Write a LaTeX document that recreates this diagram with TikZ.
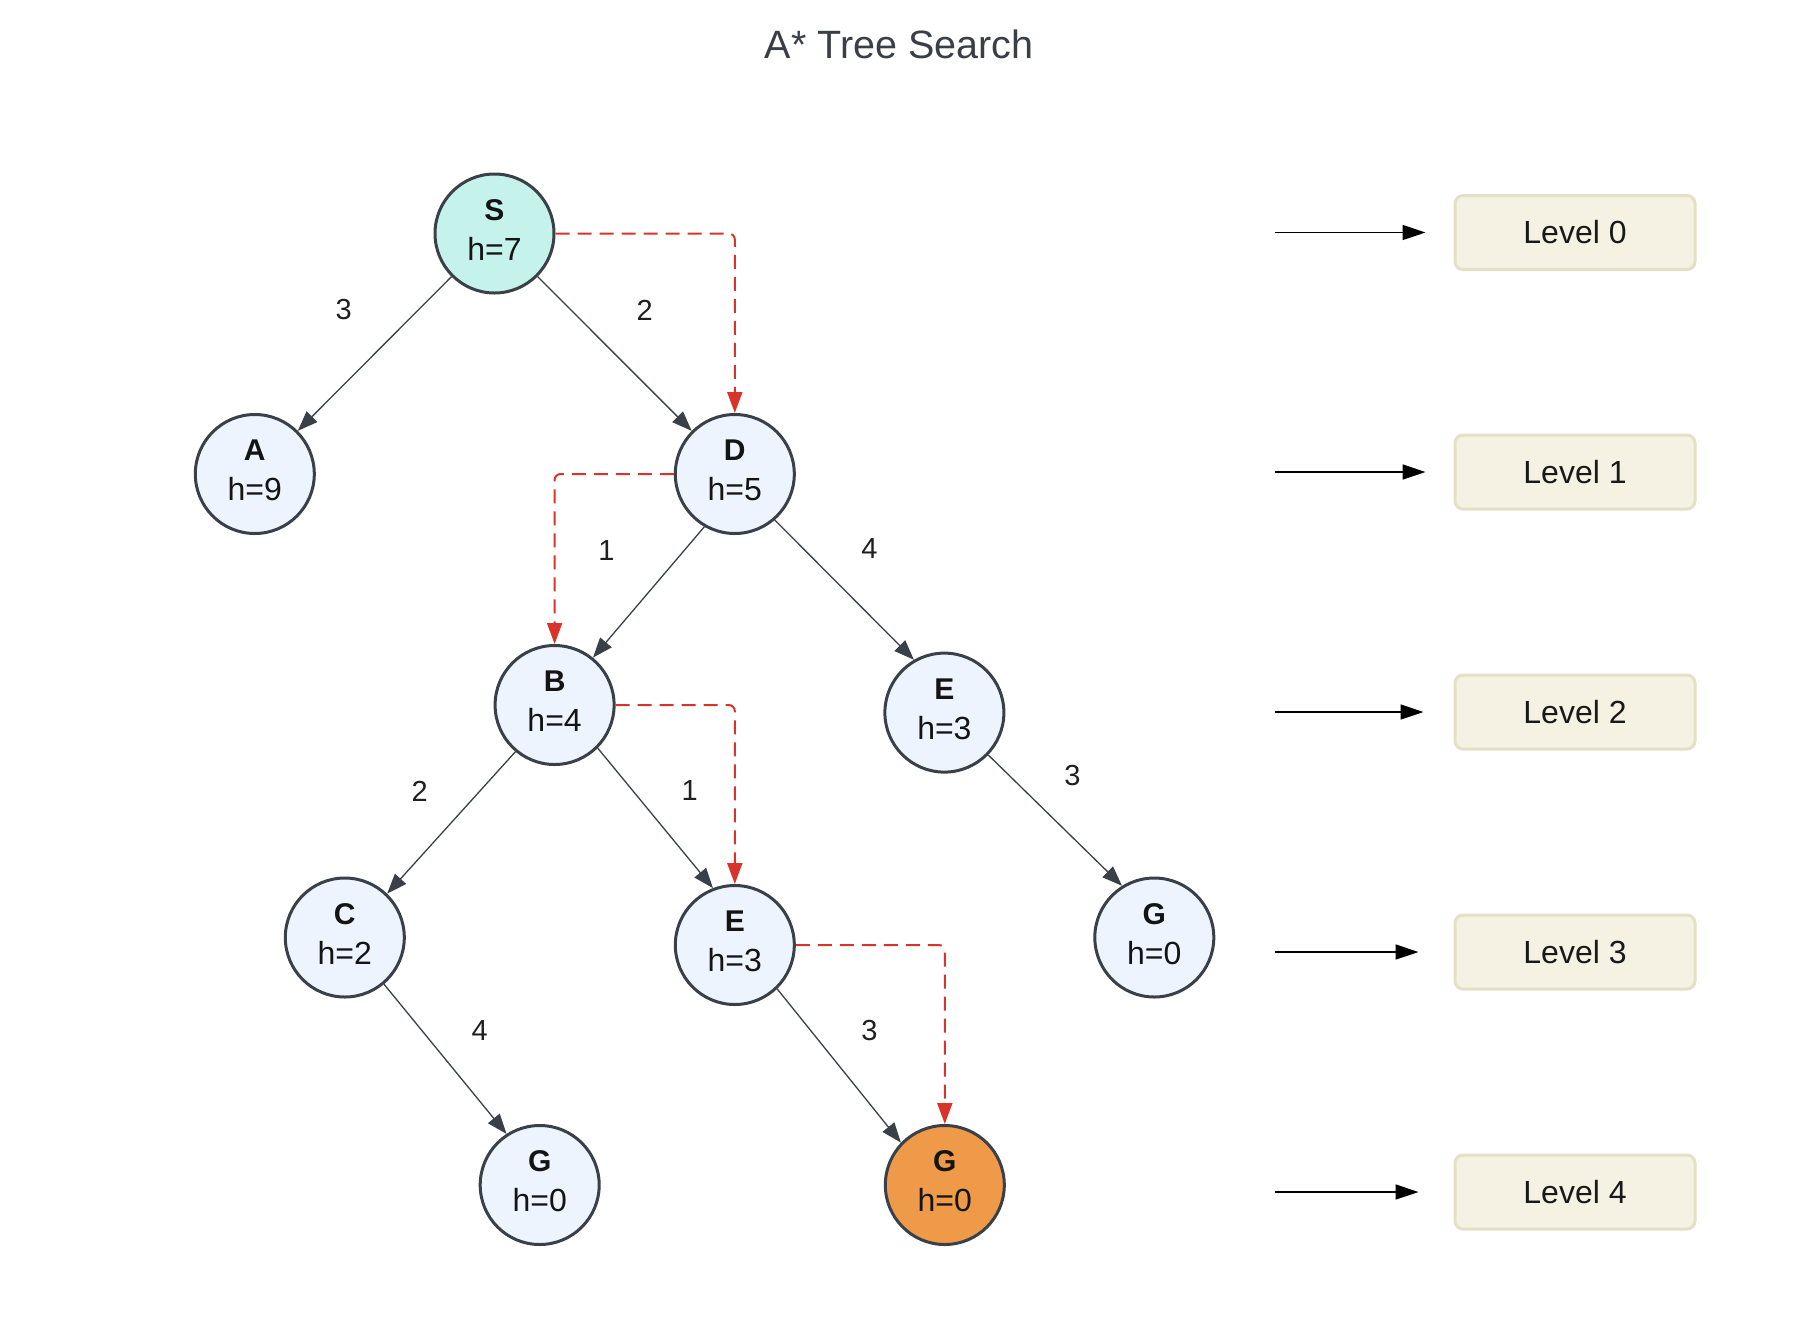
\documentclass[tikz,border=0pt]{standalone}
\usepackage{fontspec}
\setmainfont{Liberation Sans}
\usetikzlibrary{arrows.meta}
\definecolor{ink}{HTML}{3A4048}
\definecolor{nodefill}{HTML}{EDF4FE}
\definecolor{startfill}{HTML}{C5F2EA}
\definecolor{goalfill}{HTML}{EE9A48}
\definecolor{pathred}{HTML}{D8342A}
\definecolor{levelfill}{HTML}{F5F2E3}
\definecolor{levelline}{HTML}{E4DFC6}
\definecolor{titleink}{HTML}{3A3F47}
% two-line state label: bold name over heuristic value
\newcommand{\statetext}[2]{{\fontsize{30}{40}\selectfont\bfseries #1}\\h=#2\rule[-7pt]{0pt}{0pt}}
\begin{document}
\begin{tikzpicture}[x=1pt,y=-1pt,
  state/.style={circle, draw=ink, line width=3pt, minimum size=119pt, inner sep=0pt,
    fill=nodefill, align=center, text=black!92, font=\fontsize{32}{40}\selectfont},
  startstate/.style={state, fill=startfill},
  goalstate/.style={state, fill=goalfill},
  treeedge/.style={draw=ink, line width=1.3pt, -{Triangle[length=20pt,width=15pt]}},
  cost/.style={text=black!88, font=\fontsize{29}{32}\selectfont, inner sep=0pt},
  route/.style={draw=pathred, line width=2pt, dash pattern=on 14pt off 8pt,
    rounded corners=6pt, -{Triangle[length=21pt,width=15pt]}},
  levelbox/.style={draw=levelline, fill=levelfill, line width=3pt, rounded corners=8pt,
    minimum width=240pt, minimum height=74pt, text=black!90,
    font=\fontsize{32}{36}\selectfont},
  levelarrow/.style={draw=black, line width=1.5pt, -{Triangle[length=23pt,width=15pt]}}
]
\useasboundingbox (0,0) rectangle (1808,1326);

% title
\node[text=titleink, font=\fontsize{39.5}{44}\selectfont] (title) at (899,44) {A* Tree Search};

% search tree
\node[startstate] (S)  at (494.5,233.5) {\statetext{S}{7}};
\node[state]      (A)  at (254.8,474)   {\statetext{A}{9}};
\node[state]      (D)  at (734.8,474)   {\statetext{D}{5}};
\node[state]      (B)  at (554.6,705)   {\statetext{B}{4}};
\node[state]      (E1) at (944.4,712.6) {\statetext{E}{3}};
\node[state]      (C)  at (344.8,937.5) {\statetext{C}{2}};
\node[state]      (E2) at (734.8,945)   {\statetext{E}{3}};
\node[state]      (G1) at (1154.3,937.5){\statetext{G}{0}};
\node[state]      (G2) at (539.7,1185)  {\statetext{G}{0}};
\node[goalstate]  (G3) at (944.8,1185)  {\statetext{G}{0}};

\draw[treeedge] (S) -- (A);
\draw[treeedge] (S) -- (D);
\draw[treeedge] (D.-120) -- (B.51);
\draw[treeedge] (D.-49)  -- (E1.120);
\draw[treeedge] (B.-130) -- (C.46);
\draw[treeedge] (B.-45)  -- (E2.111);
\draw[treeedge] (E1.-44) -- (G1.122);
\draw[treeedge] (C.-50)  -- (G2.123);
\draw[treeedge] (E2.-46) -- (G3.136);

% step costs
\node[cost] (cSA)  at (343.6,310)  {3};
\node[cost] (cSD)  at (644.6,310)  {2};
\node[cost] (cDB)  at (606.5,551)  {1};
\node[cost] (cDE)  at (869.4,549)  {4};
\node[cost] (cBC)  at (419.7,791)  {2};
\node[cost] (cBE)  at (689.6,791)  {1};
\node[cost] (cEG1) at (1072.4,776) {3};
\node[cost] (cCG)  at (479.7,1031) {4};
\node[cost] (cEG2) at (869.4,1031) {3};

% expansion order of A*
\draw[route] (S.east)  -| (D.north);
\draw[route] (D.west)  -| (B.north);
\draw[route] (B.east)  -| (E2.north);
\draw[route] (E2.east) -| (G3.north);

% depth levels
\foreach \k/\yy in {0/232.5, 1/472, 2/712, 3/952, 4/1192}{
  \node[levelbox] (L\k) at (1575,\yy) {Level \k};
  \coordinate (s\k) at (1275,\yy);
}
\draw[levelarrow, shorten >=28pt] (s0) -- (L0.west);
\draw[levelarrow, shorten >=28pt] (s1) -- (L1.west);
\draw[levelarrow, shorten >=30pt] (s2) -- (L2.west);
\draw[levelarrow, shorten >=35pt] (s3) -- (L3.west);
\draw[levelarrow, shorten >=35pt] (s4) -- (L4.west);
\end{tikzpicture}
\end{document}
